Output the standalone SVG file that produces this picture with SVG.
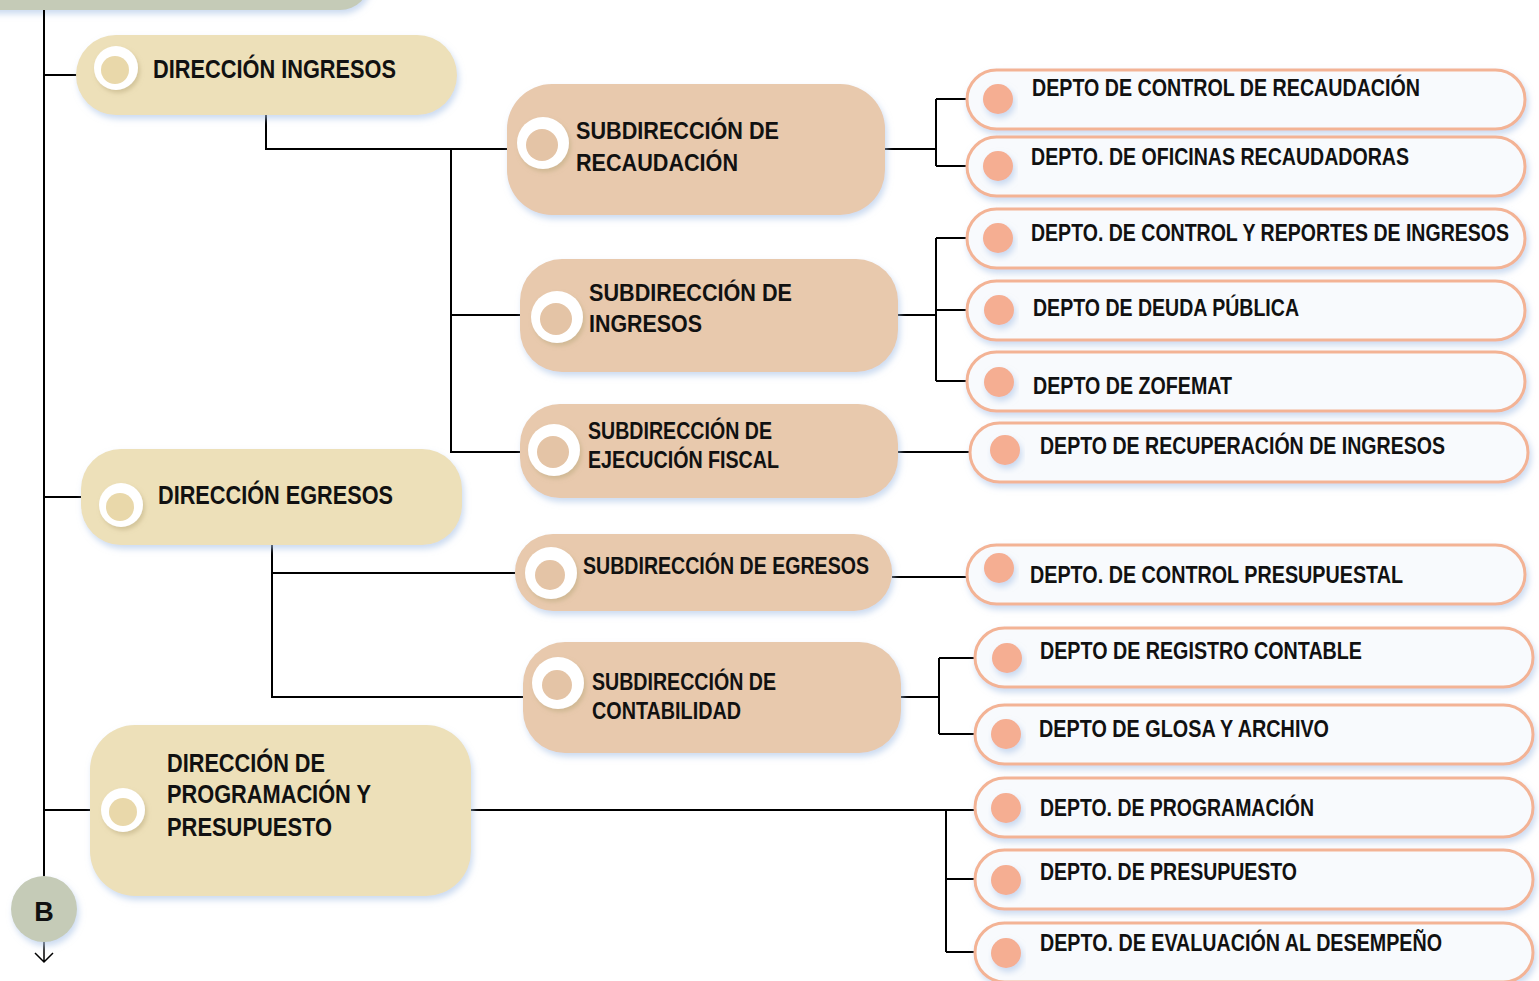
<svg xmlns="http://www.w3.org/2000/svg" width="1539" height="981" viewBox="0 0 1539 981">
<defs>
<filter id="sh" x="-10%" y="-20%" width="125%" height="150%">
<feDropShadow dx="2" dy="4" stdDeviation="3" flood-color="#a9c3e6" flood-opacity="0.6"/>
</filter>
<filter id="rs" x="-40%" y="-40%" width="190%" height="190%">
<feDropShadow dx="2" dy="3" stdDeviation="2" flood-color="#b7a77a" flood-opacity="0.5"/>
</filter>
</defs>
<style>
.dir{fill:#ede0b9;filter:url(#sh)}
.sub{fill:#e8c9ad;filter:url(#sh)}
.dep{fill:#f8fafd;stroke:#f3b395;stroke-width:3;filter:url(#sh)}
.dot{fill:#f5ae92;filter:url(#sh)}
.ro{fill:#ffffff;filter:url(#rs)}
.rid{fill:#e9d8aa}
.ris{fill:#e4c4a6}
.t{font-family:"Liberation Sans Narrow","Liberation Sans",Arial,sans-serif;font-weight:bold;fill:#111111}
.c{fill:none;stroke:#000000;stroke-width:2}
</style>

<g id="top-bar">
<rect x="-40" y="-60" width="410" height="70" rx="30" fill="#c5cbb7" filter="url(#sh)"/>
</g>

<g id="connectors" class="c">
<path d="M44 10 V877"/>
<path d="M44 75 H77"/>
<path d="M266 114 V149 H507"/>
<path d="M451 149 V452 H520"/>
<path d="M451 315 H520"/>
<path d="M885 149 H936 M936 99 V166 M936 99 H967 M936 166 H967"/>
<path d="M898 315 H936 M936 238 V381 M936 238 H967 M936 310 H967 M936 381 H967"/>
<path d="M898 452 H970"/>
<path d="M44 497 H81"/>
<path d="M272 545 V697 H523"/>
<path d="M272 573 H515"/>
<path d="M892 577 H967"/>
<path d="M901 697 H939 M939 658 V734 M939 658 H975 M939 734 H975"/>
<path d="M44 810 H90"/>
<path d="M471 810 H975 M946 810 V952 M946 879 H975 M946 952 H975"/>
<path d="M44 942 V962 M35 953 L44 962 L53 953" stroke-width="1.5"/>
</g>

<g id="dir-ingresos">
<rect class="dir" x="76" y="35" width="381" height="80" rx="40"/>
<circle class="ro" cx="116" cy="68" r="22"/>
<circle class="rid" cx="115" cy="70" r="14"/>
<text class="t" x="153" y="78" font-size="25" textLength="243" lengthAdjust="spacingAndGlyphs">DIRECCIÓN INGRESOS</text>
</g>

<g id="sub-recaudacion">
<rect class="sub" x="507" y="84" width="378" height="131" rx="45"/>
<circle class="ro" cx="543" cy="143" r="26"/>
<circle class="ris" cx="542" cy="145" r="16"/>
<text class="t" x="576" y="139" font-size="24" textLength="203" lengthAdjust="spacingAndGlyphs">SUBDIRECCIÓN DE</text>
<text class="t" x="576" y="171" font-size="24" textLength="162" lengthAdjust="spacingAndGlyphs">RECAUDACIÓN</text>
</g>

<g id="sub-ingresos">
<rect class="sub" x="520" y="259" width="378" height="113" rx="42"/>
<circle class="ro" cx="557" cy="317" r="26"/>
<circle class="ris" cx="556" cy="319" r="16"/>
<text class="t" x="589" y="301" font-size="24" textLength="203" lengthAdjust="spacingAndGlyphs">SUBDIRECCIÓN DE</text>
<text class="t" x="589" y="332" font-size="24" textLength="113" lengthAdjust="spacingAndGlyphs">INGRESOS</text>
</g>

<g id="sub-ejecucion">
<rect class="sub" x="520" y="404" width="378" height="94" rx="40"/>
<circle class="ro" cx="554" cy="450" r="26"/>
<circle class="ris" cx="553" cy="452" r="16"/>
<text class="t" x="588" y="439" font-size="23" textLength="184" lengthAdjust="spacingAndGlyphs">SUBDIRECCIÓN DE</text>
<text class="t" x="588" y="468" font-size="23" textLength="191" lengthAdjust="spacingAndGlyphs">EJECUCIÓN FISCAL</text>
</g>

<g id="dir-egresos">
<rect class="dir" x="81" y="449" width="381" height="96" rx="40"/>
<circle class="ro" cx="121" cy="505" r="22"/>
<circle class="rid" cx="120" cy="507" r="14"/>
<text class="t" x="158" y="504" font-size="25" textLength="235" lengthAdjust="spacingAndGlyphs">DIRECCIÓN EGRESOS</text>
</g>

<g id="sub-egresos">
<rect class="sub" x="515" y="534" width="377" height="77" rx="38"/>
<circle class="ro" cx="551" cy="573" r="26"/>
<circle class="ris" cx="550" cy="575" r="15"/>
<text class="t" x="583" y="574" font-size="23" textLength="286" lengthAdjust="spacingAndGlyphs">SUBDIRECCIÓN DE EGRESOS</text>
</g>

<g id="sub-contabilidad">
<rect class="sub" x="523" y="642" width="378" height="111" rx="42"/>
<circle class="ro" cx="558" cy="683" r="26"/>
<circle class="ris" cx="557" cy="685" r="15"/>
<text class="t" x="592" y="690" font-size="24" textLength="184" lengthAdjust="spacingAndGlyphs">SUBDIRECCIÓN DE</text>
<text class="t" x="592" y="719" font-size="24" textLength="149" lengthAdjust="spacingAndGlyphs">CONTABILIDAD</text>
</g>

<g id="dir-programacion">
<rect class="dir" x="90" y="725" width="381" height="171" rx="45"/>
<circle class="ro" cx="123" cy="810" r="22"/>
<circle class="rid" cx="123" cy="812" r="14"/>
<text class="t" x="167" y="772" font-size="26" textLength="158" lengthAdjust="spacingAndGlyphs">DIRECCIÓN DE</text>
<text class="t" x="167" y="803" font-size="26" textLength="204" lengthAdjust="spacingAndGlyphs">PROGRAMACIÓN Y</text>
<text class="t" x="167" y="836" font-size="26" textLength="165" lengthAdjust="spacingAndGlyphs">PRESUPUESTO</text>
</g>

<g id="connector-b">
<circle cx="44" cy="909" r="33" fill="#c5cbb7" filter="url(#sh)"/>
<text class="t" x="44" y="921" font-size="27" text-anchor="middle">B</text>
</g>

<g id="depto-control-recaudacion">
<rect class="dep" x="967" y="70" width="558" height="59" rx="29.5"/>
<circle class="dot" cx="998" cy="99" r="15"/>
<text class="t" x="1032" y="96" font-size="23" textLength="388" lengthAdjust="spacingAndGlyphs">DEPTO DE CONTROL DE RECAUDACIÓN</text>
</g>
<g id="depto-oficinas-recaudadoras">
<rect class="dep" x="967" y="137" width="558" height="59" rx="29.5"/>
<circle class="dot" cx="998" cy="166" r="15"/>
<text class="t" x="1031" y="165" font-size="23" textLength="378" lengthAdjust="spacingAndGlyphs">DEPTO. DE OFICINAS RECAUDADORAS</text>
</g>
<g id="depto-control-reportes">
<rect class="dep" x="967" y="209" width="558" height="59" rx="29.5"/>
<circle class="dot" cx="998" cy="238" r="15"/>
<text class="t" x="1031" y="241" font-size="23" textLength="478" lengthAdjust="spacingAndGlyphs">DEPTO. DE CONTROL Y REPORTES DE INGRESOS</text>
</g>
<g id="depto-deuda-publica">
<rect class="dep" x="967" y="281" width="558" height="59" rx="29.5"/>
<circle class="dot" cx="999" cy="310" r="15"/>
<text class="t" x="1033" y="316" font-size="23" textLength="266" lengthAdjust="spacingAndGlyphs">DEPTO DE DEUDA PÚBLICA</text>
</g>
<g id="depto-zofemat">
<rect class="dep" x="967" y="352" width="558" height="59" rx="29.5"/>
<circle class="dot" cx="999" cy="382" r="15"/>
<text class="t" x="1033" y="394" font-size="23" textLength="199" lengthAdjust="spacingAndGlyphs">DEPTO DE ZOFEMAT</text>
</g>
<g id="depto-recuperacion">
<rect class="dep" x="970" y="423" width="558" height="59" rx="29.5"/>
<circle class="dot" cx="1005" cy="450" r="15"/>
<text class="t" x="1040" y="454" font-size="23" textLength="405" lengthAdjust="spacingAndGlyphs">DEPTO DE RECUPERACIÓN DE INGRESOS</text>
</g>
<g id="depto-control-presupuestal">
<rect class="dep" x="967" y="545" width="558" height="59" rx="29.5"/>
<circle class="dot" cx="999" cy="568" r="15"/>
<text class="t" x="1030" y="583" font-size="23" textLength="373" lengthAdjust="spacingAndGlyphs">DEPTO. DE CONTROL PRESUPUESTAL</text>
</g>
<g id="depto-registro-contable">
<rect class="dep" x="975" y="628" width="558" height="59" rx="29.5"/>
<circle class="dot" cx="1007" cy="658" r="15"/>
<text class="t" x="1040" y="659" font-size="23" textLength="322" lengthAdjust="spacingAndGlyphs">DEPTO DE REGISTRO CONTABLE</text>
</g>
<g id="depto-glosa-archivo">
<rect class="dep" x="975" y="705" width="558" height="59" rx="29.5"/>
<circle class="dot" cx="1006" cy="734" r="15"/>
<text class="t" x="1039" y="737" font-size="23" textLength="290" lengthAdjust="spacingAndGlyphs">DEPTO DE GLOSA Y ARCHIVO</text>
</g>
<g id="depto-programacion">
<rect class="dep" x="975" y="778" width="558" height="59" rx="29.5"/>
<circle class="dot" cx="1006" cy="808" r="15"/>
<text class="t" x="1040" y="816" font-size="23" textLength="274" lengthAdjust="spacingAndGlyphs">DEPTO. DE PROGRAMACIÓN</text>
</g>
<g id="depto-presupuesto">
<rect class="dep" x="975" y="850" width="558" height="59" rx="29.5"/>
<circle class="dot" cx="1006" cy="880" r="15"/>
<text class="t" x="1040" y="880" font-size="23" textLength="257" lengthAdjust="spacingAndGlyphs">DEPTO. DE PRESUPUESTO</text>
</g>
<g id="depto-evaluacion">
<rect class="dep" x="975" y="923" width="558" height="59" rx="29.5"/>
<circle class="dot" cx="1006" cy="953" r="15"/>
<text class="t" x="1040" y="951" font-size="23" textLength="402" lengthAdjust="spacingAndGlyphs">DEPTO. DE EVALUACIÓN AL DESEMPEÑO</text>
</g>
</svg>
